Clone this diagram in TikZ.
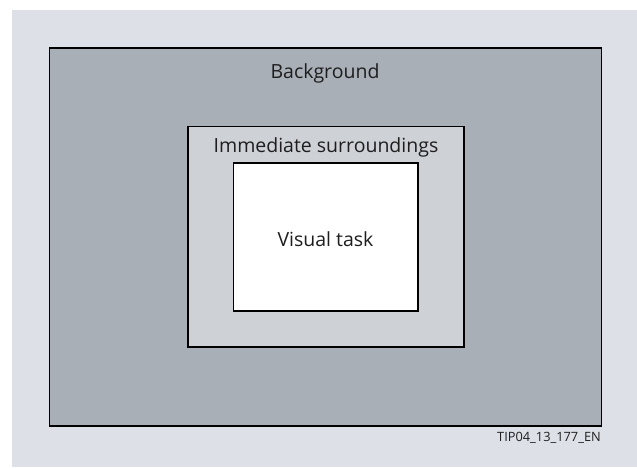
\documentclass[tikz,border=0pt]{standalone}
\usepackage{fontspec}
\setmainfont{Open Sans}
\definecolor{bglight}{RGB}{221,225,231}
\definecolor{outergray}{RGB}{168,175,182}
\definecolor{midgray}{RGB}{206,209,214}
\definecolor{txt}{RGB}{30,30,30}
\tikzset{
  frame/.style={draw=black, line width=1.4pt},
  lbl/.style={text=txt, font=\fontsize{19.5}{23}\selectfont, inner sep=0pt},
}
\begin{document}
\begin{tikzpicture}[x=1pt,y=-1pt]
\useasboundingbox (0,0) rectangle (637,467);
\fill[white] (0,0) rectangle (637,467);
\fill[bglight] (12,10) rectangle (637,467);
\draw[frame, fill=outergray] (49.5,48) rectangle (601.5,426);
\draw[frame, fill=midgray] (188,126.5) rectangle (464,347);
\draw[frame, fill=white] (233.5,163) rectangle (418,311);
\node[lbl] (bg) at (325,73) {Background};
\node[lbl] (imm) at (326,147) {Immediate surroundings};
\node[lbl] (vt) at (325.5,239) {Visual task};
\node[text=txt, font=\fontsize{12.8}{15}\selectfont, inner sep=0pt, anchor=east] (code) at (601,438) {TIP04\_13\_177\_EN};
\end{tikzpicture}
\end{document}
